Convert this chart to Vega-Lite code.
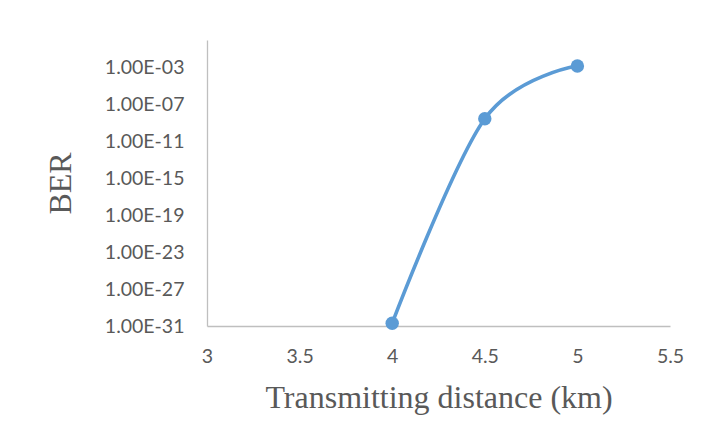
{
  "$schema": "https://vega.github.io/schema/vega-lite/v6.json",
  "autosize": "none",
  "width": 463,
  "height": 286,
  "padding": {"left": 207, "top": 40, "right": 35, "bottom": 115},
  "background": "white",
  "config": {
    "view": {"stroke": null},
    "axis": {
      "grid": false,
      "ticks": false,
      "domainColor": "#BFBFBF",
      "domainWidth": 1.3,
      "labelColor": "#595959",
      "labelFont": "Lato",
      "labelFontSize": 19.5,
      "titleColor": "#595959",
      "titleFont": "Liberation Serif",
      "titleFontSize": 32,
      "titleFontWeight": "normal"
    }
  },
  "data": {
    "values": [
      {"distance": 4.0, "ber": 2e-31},
      {"distance": 4.5, "ber": 2.9e-9},
      {"distance": 5.0, "ber": 1.5e-3}
    ]
  },
  "encoding": {
    "x": {
      "field": "distance",
      "type": "quantitative",
      "scale": {"domain": [3, 5.5], "nice": false, "zero": false},
      "axis": {
        "title": "Transmitting distance (km)",
        "values": [3, 3.5, 4, 4.5, 5, 5.5],
        "format": "~g",
        "labelPadding": 21,
        "titlePadding": 17,
        "labelFlush": false,
        "labelOverlap": false
      }
    },
    "y": {
      "field": "ber",
      "type": "quantitative",
      "scale": {"type": "log", "domain": [1e-31, 1], "nice": false},
      "axis": {
        "title": "BER",
        "values": [1e-31, 1e-27, 1e-23, 1e-19, 1e-15, 1e-11, 1e-7, 1e-3],
        "labelExpr": "'1.00E-' + (abs(round(log(datum.value)/LN10)) < 10 ? '0' : '') + abs(round(log(datum.value)/LN10))",
        "labelPadding": 23,
        "titlePadding": 27,
        "labelOverlap": false,
        "labelFlush": false
      }
    }
  },
  "layer": [
    {
      "mark": {"type": "line", "interpolate": "cardinal", "color": "#5B9BD5", "strokeWidth": 3.6}
    },
    {
      "mark": {"type": "point", "filled": true, "opacity": 1, "color": "#5B9BD5", "size": 180}
    }
  ]
}
